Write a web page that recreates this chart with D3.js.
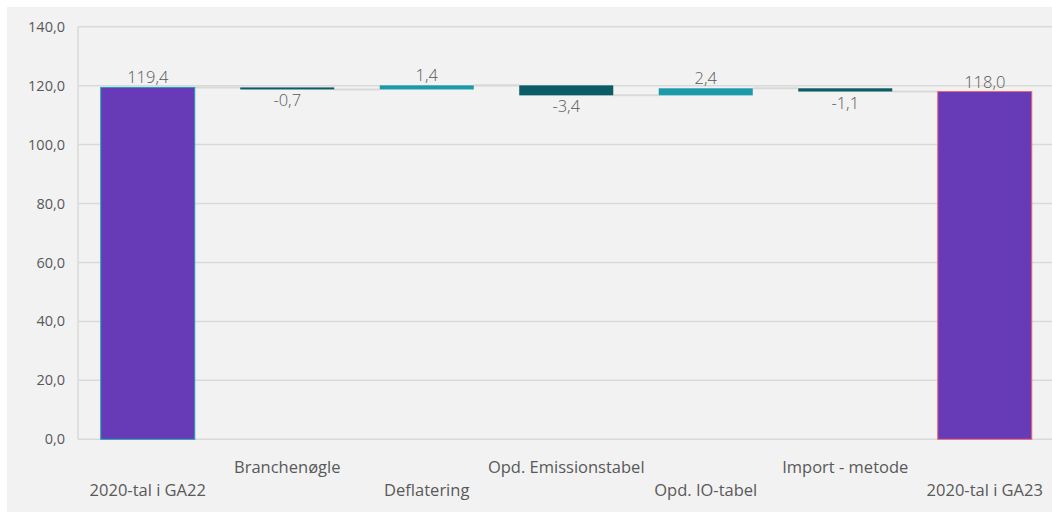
<!DOCTYPE html>
<html>
<head>
<meta charset="utf-8">
<script src="https://cdn.jsdelivr.net/npm/d3@7"></script>
<style>
  html, body { margin: 0; padding: 0; background: #ffffff; }
  svg { display: block; }
  text { font-family: "Open Sans", "Noto Sans", sans-serif; }
</style>
</head>
<body>
<svg id="chart" width="1052" height="515"></svg>
<script>
// Waterfall: 2020 emissions in GA22 vs GA23 with the revision steps between them
const categories = ["2020-tal i GA22", "Branchenøgle", "Deflatering", "Opd. Emissionstabel", "Opd. IO-tabel", "Import - metode", "2020-tal i GA23"];
const values = [119.4, -0.7, 1.4, -3.4, 2.4, -1.1, 118.0];
const isTotal = [true, false, false, false, false, false, true];
const yTicks = [0, 20, 40, 60, 80, 100, 120, 140];

const colTotal = "#673ab7";
const colUp = "#1b9aaa";
const colDown = "#0b5c66";
const totalStroke = ["#1aa3b4", "#f0646e"];
const grid = "#d9d9d9";
const textCol = "#595959";

const svg = d3.select("#chart");
const W = 1052, H = 515;

// panel background
svg.append("rect").attr("x", 7).attr("y", 7).attr("width", W - 7).attr("height", 505).attr("fill", "#f2f2f2");

const plotLeft = 78, plotRight = 1054.5, plotTop = 26.7, plotBottom = 439.3;

const x = d3.scaleBand().domain(categories).range([plotLeft, plotRight]).paddingInner(0.326).paddingOuter(0.163);
const y = d3.scaleLinear().domain([0, 140]).range([plotBottom, plotTop]);

// running levels for floating bars
let level = 0;
const bars = categories.map((c, i) => {
  let y0, y1;
  if (isTotal[i]) { y0 = 0; y1 = values[i]; level = values[i]; }
  else { y0 = level; y1 = level + values[i]; level = y1; }
  return { c, i, v: values[i], y0, y1, total: isTotal[i] };
});

// gridlines
svg.append("g").selectAll("line").data(yTicks).join("line")
  .attr("x1", plotLeft).attr("x2", W)
  .attr("y1", d => y(d)).attr("y2", d => y(d))
  .attr("stroke", grid).attr("stroke-width", 1.5);

// y axis line
svg.append("line").attr("x1", plotLeft).attr("x2", plotLeft).attr("y1", y(140)).attr("y2", y(0))
  .attr("stroke", grid).attr("stroke-width", 1.5);

// Danish number format: decimal comma, plain hyphen for negatives
const fmt = v => d3.format(".1f")(v).replace(".", ",").replace("\u2212", "-");

// y tick labels
svg.append("g").selectAll("text").data(yTicks).join("text")
  .attr("x", 65).attr("y", d => y(d)).attr("dy", "0.35em")
  .attr("text-anchor", "end").attr("font-size", 14.5).attr("fill", textCol)
  .text(d => fmt(d));

// connector lines between consecutive bars
svg.append("g").selectAll("line").data(bars.slice(0, -1)).join("line")
  .attr("x1", d => x(d.c) + x.bandwidth())
  .attr("x2", d => x(categories[d.i + 1]))
  .attr("y1", d => y(d.y1)).attr("y2", d => y(d.y1))
  .attr("stroke", grid).attr("stroke-width", 2);

// bars
let totalIdx = 0;
svg.append("g").selectAll("rect").data(bars).join("rect")
  .attr("x", d => x(d.c))
  .attr("width", x.bandwidth())
  .attr("y", d => y(Math.max(d.y0, d.y1)))
  .attr("height", d => Math.abs(y(d.y0) - y(d.y1)))
  .attr("fill", d => d.total ? colTotal : (d.v >= 0 ? colUp : colDown))
  .attr("stroke", d => d.total ? totalStroke[totalIdx++] : "none")
  .attr("stroke-width", 1);

// value labels
svg.append("g").selectAll("text").data(bars).join("text")
  .attr("x", d => x(d.c) + x.bandwidth() / 2)
  .attr("y", d => (d.total || d.v >= 0) ? y(Math.max(d.y0, d.y1)) - 4 : y(Math.min(d.y0, d.y1)) + 17)
  .attr("text-anchor", "middle").attr("font-size", 16.5).attr("font-weight", 300).attr("fill", textCol)
  .text(d => fmt(d.v));

// category labels, staggered over two rows
svg.append("g").selectAll("text").data(categories).join("text")
  .attr("x", d => x(d) + x.bandwidth() / 2)
  .attr("y", (d, i) => i % 2 === 0 ? 496 : 473)
  .attr("text-anchor", "middle").attr("font-size", 16.5).attr("fill", textCol)
  .text(d => d);
</script>
</body>
</html>
